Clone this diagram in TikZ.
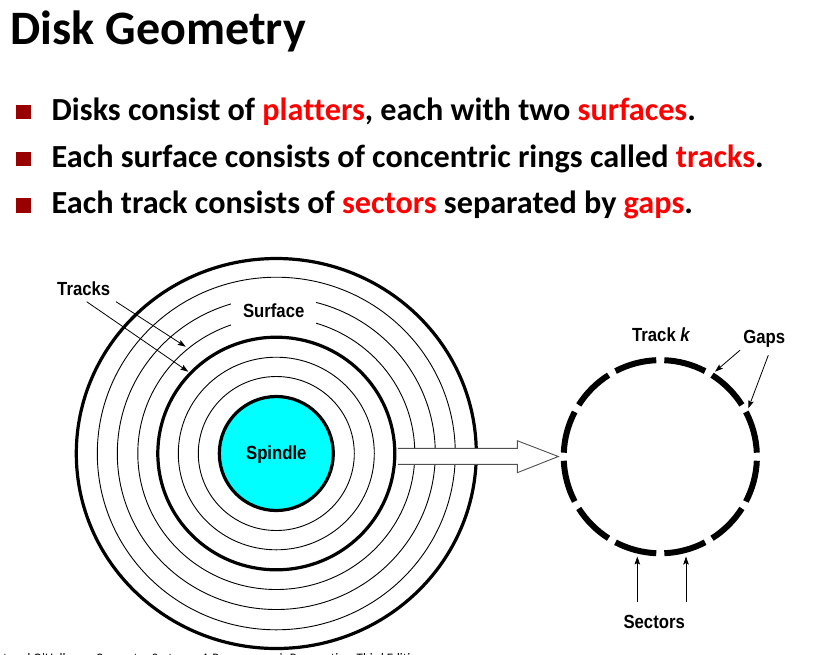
\documentclass[tikz,border=0pt]{standalone}
\usepackage{fontspec}
\setmainfont{Carlito}[Ligatures=NoCommon]
\newfontfamily\labfont[FakeStretch=0.88]{Liberation Sans}
\usetikzlibrary{arrows.meta,calc}
\definecolor{bred}{HTML}{990000}
\definecolor{hl}{HTML}{FF0000}
\definecolor{spin}{HTML}{00FFFF}
\definecolor{arrgray}{HTML}{505050}
\begin{document}
\begin{tikzpicture}[x=1pt,y=-1pt,
  thinring/.style={line width=0.9pt},
  thickring/.style={line width=3.2pt},
  lab/.style={font=\labfont\bfseries\fontsize{19}{19}\selectfont, inner sep=0pt, anchor=base},
  ptr/.style={-{Stealth[length=8pt,width=5.5pt,inset=1.5pt]}, line width=0.8pt},
  sectorarc/.style={line width=6pt},
  bulletsq/.style={fill=bred, minimum size=14.5pt, inner sep=0pt},
  bline/.style={anchor=base west, inner sep=0pt, font=\bfseries\fontsize{32.2}{32.2}\selectfont},
  blockarrow/.style={draw=arrgray, line width=0.9pt}
]
\useasboundingbox (0,0) rectangle (818,654);
\clip (0,0) rectangle (818,654);

% title and bullets
\node[anchor=base west, inner sep=0pt, font=\bfseries\fontsize{48}{48}\selectfont] (title) at (10.5,44) {Disk Geometry};
\node[bulletsq] (b1) at (23.3,112.2) {};
\node[bulletsq] (b2) at (23.3,158.9) {};
\node[bulletsq] (b3) at (23.3,205.6) {};
\node[bline] (l1) at (51.5,120.3) {Disks consist of \textcolor{hl}{platters}, each with two \textcolor{hl}{surfaces}.};
\node[bline] (l2) at (51.5,167.0) {Each surface consists of concentric rings called \textcolor{hl}{tracks}.};
\node[bline] (l3) at (51.5,213.7) {Each track consists of \textcolor{hl}{sectors} separated by \textcolor{hl}{gaps}.};

% disk
\coordinate (dc) at (276.3,453.5);
\draw[thickring] (dc) ellipse [x radius=200, y radius=195];
\foreach \rx/\ry in {179/176.3, 159/156, 138.5/136, 98/96.3, 78/77}
  \draw[thinring] (dc) ellipse [x radius=\rx, y radius=\ry];
\draw[thickring] (dc) ellipse [x radius=118.5, y radius=116.3];
\node[circle, draw, line width=3.2pt, fill=spin, minimum size=114pt, inner sep=0pt] (spindle) at (dc) {};
\node[lab] (spindlelab) at (276.3,459.8) {Spindle};

% surface label
\node[fill=white, minimum width=85.5pt, minimum height=41pt, inner sep=0pt,
      font=\labfont\bfseries\fontsize{19}{19}\selectfont] (surface) at (273.7,310.4) {Surface};

% tracks label and arrows
\node[lab] (tracks) at (83.7,295.7) {Tracks};
\coordinate (trk1) at (185.7,346.7);
\coordinate (trk2) at (188.3,371.7);
\draw[ptr] ([shift={(32.3,6)}]tracks.base) -- (trk1);
\draw[ptr] ([shift={(3,6)}]tracks.base) -- (trk2);

% block arrow from disk to track
\coordinate (tip) at (558.3,456.5);
\fill[white] (397.8,448.3) -- (517.3,448.3) -- (517.3,440.7) -- (tip) -- (517.3,472.7) -- (517.3,464.3) -- (397.8,464.3) -- cycle;
\draw[blockarrow] (397.8,448.3) -- (517.3,448.3) -- (517.3,440.7) -- (tip) -- (517.3,472.7) -- (517.3,464.3) -- (397.8,464.3);

% track k
\coordinate (tc) at (660.3,456.7);
\foreach \a in {0,30,...,330}
  \draw[sectorarc] ([shift={(\a+2.4:96.6)}]tc) arc[start angle=\a+2.4, end angle=\a+27.6, radius=96.6];
\node[lab] (trackk) at (661.3,341.7) {Track \textit{k}};
\node[lab] (gaps) at (764.2,343.2) {Gaps};
\coordinate (gap1) at (715,371.7);
\coordinate (gap2) at (748.3,408.3);
\draw[ptr] ([shift={(-24.2,7)}]gaps.base) -- (gap1);
\draw[ptr] ([shift={(4.1,12)}]gaps.base) -- (gap2);
\node[lab] (sectors) at (654.2,628.3) {Sectors};
\coordinate (sec1) at (637.3,556.5);
\coordinate (sec2) at (686,556.5);
\draw[ptr] ([shift={(-16.9,-26.6)}]sectors.base) -- (sec1);
\draw[ptr] ([shift={(31.8,-26.6)}]sectors.base) -- (sec2);

% clipped citation (only its top shows, as in the reference)
\node[anchor=base west, inner sep=0pt, font=\fontsize{13}{13}\selectfont] (cite) at (-27.3,662)
  {Bryant and O'Hallaron, Computer Systems: A Programmer's Perspective, Third Edition};
\end{tikzpicture}
\end{document}
